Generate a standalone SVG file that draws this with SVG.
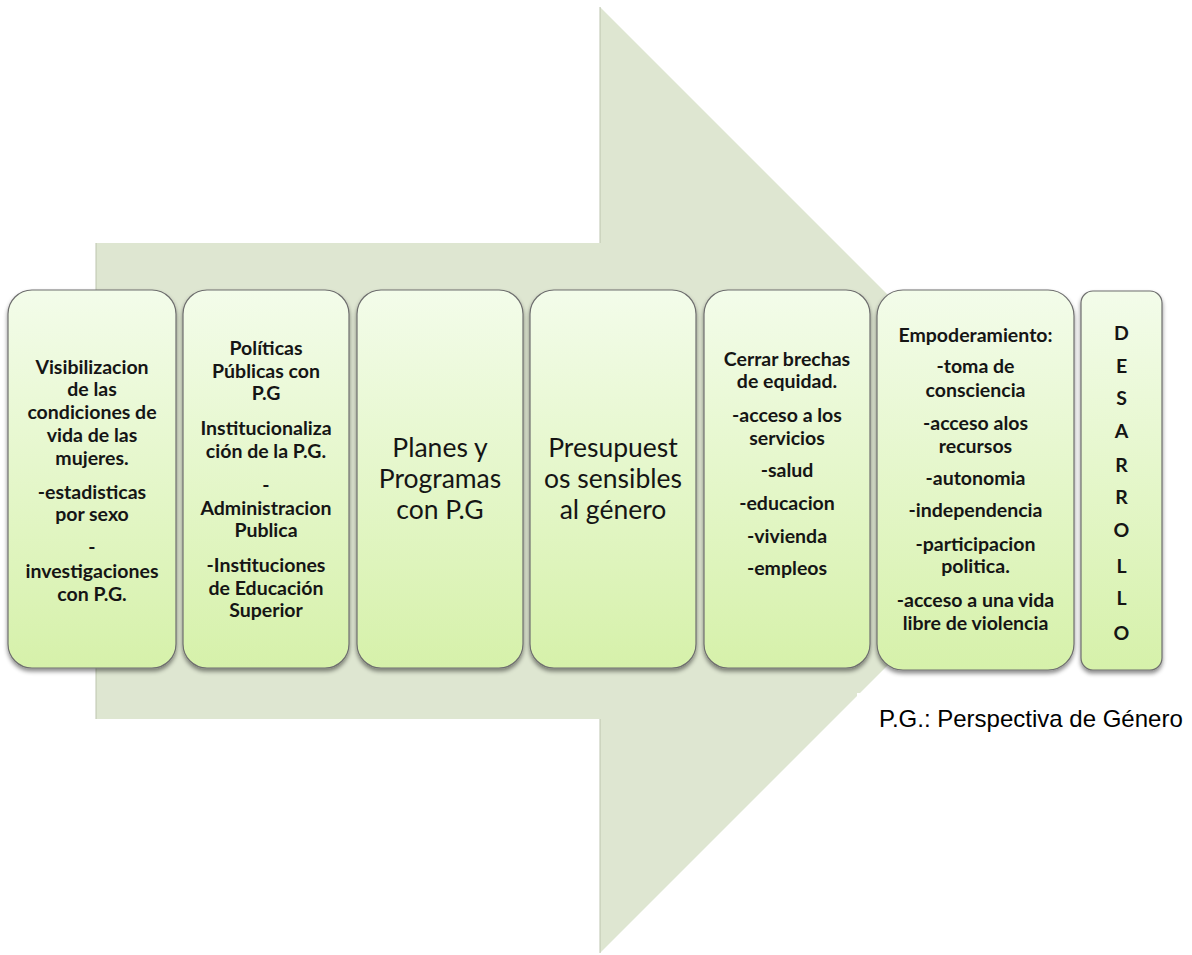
<svg xmlns="http://www.w3.org/2000/svg" width="1192" height="955" viewBox="0 0 1192 955">
<defs>
<linearGradient id="boxfill" x1="0" y1="0" x2="0" y2="1">
<stop offset="0" stop-color="#F3FCEA"/>
<stop offset="1" stop-color="#D6F1AA"/>
</linearGradient>
<filter id="shadow" x="-10%" y="-10%" width="120%" height="120%">
<feDropShadow dx="0" dy="3" stdDeviation="2" flood-color="#000" flood-opacity="0.45"/>
</filter>
<style>
.box{fill:url(#boxfill);stroke:#6E6E6E;stroke-width:1.2;filter:url(#shadow);}
.b{font-family:Lato,"Open Sans","DejaVu Sans",sans-serif;font-weight:bold;font-size:19.5px;fill:#151515;text-anchor:middle;}
.r{font-family:Lato,"Open Sans","DejaVu Sans",sans-serif;font-size:26.5px;fill:#151515;text-anchor:middle;}
.note{font-family:"Liberation Sans",Arial,sans-serif;font-size:24px;fill:#000;}
</style>
</defs>
<rect width="1192" height="955" fill="#FFFFFF"/>
<g id="arrow">
<polygon points="96,243 600,243 600,7 1073,480 600,953 600,719 96,719" fill="#DEE6D1"/>
<polyline points="96,719 96,243" fill="none" stroke="#BCC4AE" stroke-width="1"/>
<polyline points="600,243 600,7" fill="none" stroke="#BCC4AE" stroke-width="1"/>
<polyline points="600,719 600,953" fill="none" stroke="#BCC4AE" stroke-width="1"/>
</g>
<rect x="857" y="693" width="335" height="45" fill="#FFFFFF"/>
<g id="connectors"></g>
<g id="box1">
<rect class="box" x="8" y="290" width="168" height="378" rx="24"/>
<text class="b" x="92" y="374">Visibilizacion</text>
<text class="b" x="92" y="396">de las</text>
<text class="b" x="92" y="419">condiciones de</text>
<text class="b" x="92" y="442">vida de las</text>
<text class="b" x="92" y="465">mujeres.</text>
<text class="b" x="92" y="499">-estadisticas</text>
<text class="b" x="92" y="521">por sexo</text>
<text class="b" x="92" y="554">-</text>
<text class="b" x="92" y="578">investigaciones</text>
<text class="b" x="92" y="601">con P.G.</text>
</g>
<g id="box2">
<rect class="box" x="183" y="290" width="166" height="378" rx="24"/>
<text class="b" x="266" y="355">Políticas</text>
<text class="b" x="266" y="378">Públicas con</text>
<text class="b" x="266" y="400">P.G</text>
<text class="b" x="266" y="435">Institucionaliza</text>
<text class="b" x="266" y="458">ción de la P.G.</text>
<text class="b" x="266" y="492">-</text>
<text class="b" x="266" y="515">Administracion</text>
<text class="b" x="266" y="537">Publica</text>
<text class="b" x="266" y="572">-Instituciones</text>
<text class="b" x="266" y="595">de Educación</text>
<text class="b" x="266" y="617">Superior</text>
</g>
<g id="box3">
<rect class="box" x="357" y="290" width="166" height="378" rx="24"/>
<text class="r" x="440" y="457">Planes y</text>
<text class="r" x="440" y="488">Programas</text>
<text class="r" x="440" y="519">con P.G</text>
</g>
<g id="box4">
<rect class="box" x="530" y="290" width="166" height="378" rx="24"/>
<text class="r" x="613" y="457">Presupuest</text>
<text class="r" x="613" y="488">os sensibles</text>
<text class="r" x="613" y="519">al género</text>
</g>
<g id="box5">
<rect class="box" x="704" y="290" width="166" height="378" rx="24"/>
<text class="b" x="787" y="366">Cerrar brechas</text>
<text class="b" x="787" y="388">de equidad.</text>
<text class="b" x="787" y="422">-acceso a los</text>
<text class="b" x="787" y="445">servicios</text>
<text class="b" x="787" y="477">-salud</text>
<text class="b" x="787" y="510">-educacion</text>
<text class="b" x="787" y="543">-vivienda</text>
<text class="b" x="787" y="575">-empleos</text>
</g>
<g id="box6">
<rect class="box" x="877" y="290" width="197" height="380" rx="26"/>
<text class="b" x="975.5" y="342">Empoderamiento:</text>
<text class="b" x="975.5" y="373">-toma de</text>
<text class="b" x="975.5" y="397">consciencia</text>
<text class="b" x="975.5" y="430">-acceso alos</text>
<text class="b" x="975.5" y="453">recursos</text>
<text class="b" x="975.5" y="485">-autonomia</text>
<text class="b" x="975.5" y="517">-independencia</text>
<text class="b" x="975.5" y="551">-participacion</text>
<text class="b" x="975.5" y="573">politica.</text>
<text class="b" x="975.5" y="607">-acceso a una vida</text>
<text class="b" x="975.5" y="630">libre de violencia</text>
</g>
<g id="box7">
<rect class="box" x="1081" y="291" width="81" height="379" rx="12"/>
<text class="b" x="1121.5" y="340">D</text>
<text class="b" x="1121.5" y="373">E</text>
<text class="b" x="1121.5" y="405">S</text>
<text class="b" x="1121.5" y="438">A</text>
<text class="b" x="1121.5" y="472">R</text>
<text class="b" x="1121.5" y="504">R</text>
<text class="b" x="1121.5" y="537">O</text>
<text class="b" x="1121.5" y="573">L</text>
<text class="b" x="1121.5" y="605">L</text>
<text class="b" x="1121.5" y="640">O</text>
</g>
<g id="note">
<text class="note" x="879" y="727">P.G.: Perspectiva de Género</text>
</g>
</svg>
